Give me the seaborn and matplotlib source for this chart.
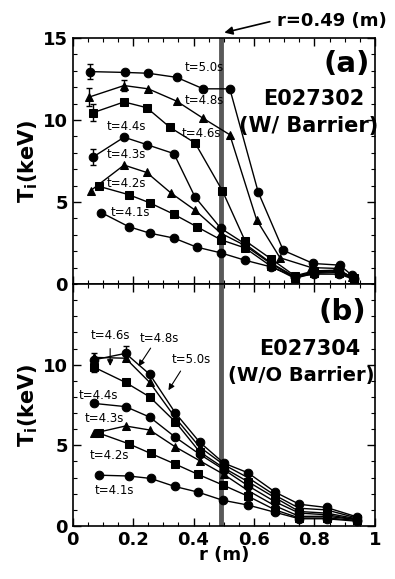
import numpy as np
import pandas as pd
import matplotlib
matplotlib.use("Agg")
import matplotlib.pyplot as plt
from matplotlib.ticker import MultipleLocator
import seaborn as sns

# ---------------- data ----------------
times = ["4.1", "4.2", "4.3", "4.4", "4.6", "4.8", "5.0"]
markers = {"4.1": "o", "4.2": "s", "4.3": "^", "4.4": "o", "4.6": "s", "4.8": "^", "5.0": "o"}

# Panel (a): E027302 (with barrier)
ra_41 = [0.095, 0.185, 0.255, 0.335, 0.41, 0.49, 0.57, 0.655, 0.735, 0.80, 0.88, 0.93]
Ta_41 = [4.35, 3.5, 3.1, 2.8, 2.25, 1.9, 1.45, 1.05, 0.45, 0.6, 0.6, 0.3]
ra_42 = [0.088, 0.185, 0.255, 0.335, 0.41, 0.49, 0.57, 0.655, 0.735, 0.80, 0.88, 0.93]
Ta_42 = [5.95, 5.45, 4.95, 4.25, 3.5, 2.7, 2.2, 1.1, 0.35, 0.65, 0.7, 0.3]
ra_43 = [0.06, 0.17, 0.245, 0.325, 0.405, 0.49, 0.57, 0.655, 0.735, 0.80, 0.88, 0.93]
Ta_43 = [5.7, 7.25, 6.8, 5.55, 4.5, 3.1, 2.35, 1.25, 0.4, 0.7, 0.75, 0.35]
ra_44 = [0.068, 0.17, 0.245, 0.335, 0.405, 0.49, 0.57, 0.655, 0.735, 0.80, 0.88, 0.93]
Ta_44 = [7.75, 8.95, 8.5, 7.95, 5.3, 3.4, 2.45, 1.3, 0.45, 0.75, 0.8, 0.35]
ra_46 = [0.068, 0.17, 0.245, 0.322, 0.405, 0.495, 0.57, 0.655, 0.735, 0.80, 0.88, 0.93]
Ta_46 = [10.45, 11.1, 10.75, 9.55, 8.6, 5.7, 2.65, 1.55, 0.5, 0.8, 0.85, 0.35]
ra_48 = [0.055, 0.17, 0.25, 0.344, 0.432, 0.52, 0.609, 0.686, 0.79, 0.873, 0.925]
Ta_48 = [11.4, 12.1, 11.9, 11.15, 10.1, 9.1, 3.9, 1.6, 1.0, 0.95, 0.4]
ra_50 = [0.057, 0.173, 0.25, 0.344, 0.432, 0.52, 0.614, 0.697, 0.796, 0.884, 0.923]
Ta_50 = [12.95, 12.9, 12.85, 12.6, 11.9, 11.9, 5.6, 2.05, 1.25, 1.15, 0.55]

# error bars panel (a): (time, index, half-width)
err_a = [("5.0", 0, 0.45), ("4.8", 0, 0.55), ("4.8", 1, 0.35), ("4.6", 0, 0.5), ("4.4", 0, 0.5)]

# Panel (b): E027304 (without barrier)
rb_hi = [0.07, 0.175, 0.255, 0.34, 0.42, 0.50, 0.58, 0.67, 0.75, 0.84, 0.94]
rb_lo = [0.088, 0.185, 0.258, 0.338, 0.415, 0.496, 0.58, 0.67, 0.75, 0.84, 0.94]
Tb_50 = [10.3, 10.7, 9.4, 7.0, 5.2, 3.9, 3.3, 2.1, 1.35, 1.15, 0.57]
Tb_48 = [10.45, 10.4, 8.9, 6.7, 4.9, 3.8, 3.0, 1.9, 1.1, 1.0, 0.5]
Tb_46 = [9.85, 8.9, 8.0, 6.45, 4.6, 3.6, 2.75, 1.75, 0.9, 0.8, 0.45]
Tb_44 = [7.6, 7.4, 6.75, 5.5, 4.45, 3.5, 2.5, 1.5, 0.8, 0.7, 0.4]
Tb_43 = [5.75, 6.2, 5.95, 4.9, 4.05, 3.2, 2.2, 1.25, 0.6, 0.6, 0.4]
Tb_42 = [5.75, 5.1, 4.5, 3.85, 3.2, 2.55, 1.85, 1.0, 0.5, 0.5, 0.35]
Tb_41 = [3.15, 3.1, 2.95, 2.45, 2.1, 1.6, 1.3, 0.85, 0.45, 0.45, 0.3]

err_b = [("5.0", 1, 0.45), ("4.8", 0, 0.3), ("4.6", 0, 0.3)]

series_a = {"4.1": (ra_41, Ta_41), "4.2": (ra_42, Ta_42), "4.3": (ra_43, Ta_43),
            "4.4": (ra_44, Ta_44), "4.6": (ra_46, Ta_46), "4.8": (ra_48, Ta_48),
            "5.0": (ra_50, Ta_50)}
series_b = {"4.1": (rb_lo, Tb_41), "4.2": (rb_lo, Tb_42), "4.3": (rb_hi, Tb_43),
            "4.4": (rb_hi, Tb_44), "4.6": (rb_hi, Tb_46), "4.8": (rb_hi, Tb_48),
            "5.0": (rb_hi, Tb_50)}

r_barrier = 0.49

# labels: (text, x_left, y) in data coordinates
labels_a = [("t=5.0s", 0.371, 13.2), ("t=4.8s", 0.371, 11.2), ("t=4.6s", 0.361, 9.2),
            ("t=4.4s", 0.114, 9.6), ("t=4.3s", 0.114, 7.87), ("t=4.2s", 0.114, 6.14),
            ("t=4.1s", 0.124, 4.35)]
labels_b = [("t=4.6s", 0.058, 11.8), ("t=4.8s", 0.223, 11.65), ("t=5.0s", 0.328, 10.35),
            ("t=4.4s", 0.021, 8.09), ("t=4.3s", 0.040, 6.69), ("t=4.2s", 0.057, 4.38),
            ("t=4.1s", 0.074, 2.22)]
arrows_b = [((0.124, 11.17), (0.124, 9.75)), ((0.263, 11.17), (0.213, 9.75)),
            ((0.362, 9.75), (0.312, 8.27))]


def to_df(series):
    rows = []
    for t in times:
        r, T = series[t]
        for ri, Ti in zip(r, T):
            rows.append({"t": t, "r": ri, "T": Ti})
    return pd.DataFrame(rows)


df_a = to_df(series_a)
df_b = to_df(series_b)

# ---------------- style ----------------
sns.set_style("ticks")
plt.rcParams["font.family"] = ["DejaVu Sans"]
plt.rcParams["mathtext.fontset"] = "dejavusans"
for k in ["text.color", "axes.labelcolor", "xtick.color", "ytick.color", "axes.edgecolor"]:
    plt.rcParams[k] = "black"

fig = plt.figure(figsize=(3.95, 5.79), dpi=100)
ax_a = fig.add_axes([0.184, 0.5095, 0.765, 0.4249])
ax_b = fig.add_axes([0.184, 0.0915, 0.765, 0.418])

pal = {t: "black" for t in times}


def draw(ax, df, series, errs):
    ax.axvline(r_barrier, color="0.35", lw=3.5, zorder=1)
    sns.lineplot(data=df, x="r", y="T", hue="t", style="t", markers=markers,
                 dashes=False, palette=pal, sort=False, legend=False,
                 estimator=None, ax=ax, lw=1.0, markersize=6.2,
                 markeredgecolor="black", zorder=3)
    for t, i, e in errs:
        r, T = series[t]
        ax.errorbar([r[i]], [T[i]], yerr=[e], fmt="none", ecolor="black",
                    elinewidth=1.0, capsize=2.5, zorder=4)
    ax.set_xlim(0, 1)
    ax.set_ylim(0, 15)
    ax.xaxis.set_major_locator(MultipleLocator(0.2))
    ax.xaxis.set_minor_locator(MultipleLocator(0.05))
    ax.yaxis.set_major_locator(MultipleLocator(5))
    ax.yaxis.set_minor_locator(MultipleLocator(1))
    ax.tick_params(which="both", direction="in", top=True, right=True, colors="black")
    ax.tick_params(which="major", length=6, width=1.0, labelsize=13)
    ax.tick_params(which="minor", length=3, width=0.8)
    for s in ax.spines.values():
        s.set_linewidth(1.2)
        s.set_color("black")
    ax.set_ylabel(r"T$_\mathbf{i}$(keV)", fontsize=15, fontweight="bold", labelpad=2)


draw(ax_a, df_a, series_a, err_a)
draw(ax_b, df_b, series_b, err_b)

ax_a.set_xlabel("")
ax_a.tick_params(labelbottom=False)
ax_a.set_yticks([0, 5, 10, 15])
ax_b.set_yticks([0, 5, 10])
for ax in (ax_a, ax_b):
    for lab in ax.get_xticklabels() + ax.get_yticklabels():
        lab.set_fontweight("bold")
        lab.set_fontsize(13)
ax_b.set_xticks([0, 0.2, 0.4, 0.6, 0.8, 1.0])
ax_b.set_xticklabels(["0", "0.2", "0.4", "0.6", "0.8", "1"], fontweight="bold", fontsize=13)
ax_b.set_xlabel("r (m)", fontsize=13, fontweight="bold", labelpad=-2)

for txt, x, y in labels_a:
    ax_a.text(x, y, txt, fontsize=8.5, ha="left", va="center", zorder=5)
for txt, x, y in labels_b:
    ax_b.text(x, y, txt, fontsize=8.5, ha="left", va="center", zorder=5)
for (x0, y0), (x1, y1) in arrows_b:
    ax_b.annotate("", xy=(x1, y1), xytext=(x0, y0),
                  arrowprops=dict(arrowstyle="-|>", color="black", lw=0.8,
                                  mutation_scale=9), zorder=5)

ax_a.text(0.985, 0.894, "(a)", transform=ax_a.transAxes, ha="right", va="center",
          fontsize=21, fontweight="bold")
ax_a.text(0.797, 0.752, "E027302", transform=ax_a.transAxes, ha="center", va="center",
          fontsize=15, fontweight="bold")
ax_a.text(0.78, 0.642, "(W/ Barrier)", transform=ax_a.transAxes, ha="center", va="center",
          fontsize=15, fontweight="bold")
ax_b.text(0.97, 0.886, "(b)", transform=ax_b.transAxes, ha="right", va="center",
          fontsize=21, fontweight="bold")
ax_b.text(0.785, 0.731, "E027304", transform=ax_b.transAxes, ha="center", va="center",
          fontsize=15, fontweight="bold")
ax_b.text(0.755, 0.621, "(W/O Barrier)", transform=ax_b.transAxes, ha="center", va="center",
          fontsize=14, fontweight="bold")

fig.text(0.701, 0.9637, "r=0.49 (m)", ha="left", va="center", fontsize=13,
         fontweight="bold")
ax_a.annotate("", xy=(0.561, 0.9425), xycoords="figure fraction",
              xytext=(0.690, 0.9637), textcoords="figure fraction",
              arrowprops=dict(arrowstyle="-|>", color="black", lw=1.2,
                              mutation_scale=12), annotation_clip=False)

fig.savefig("out.png", dpi=100)
